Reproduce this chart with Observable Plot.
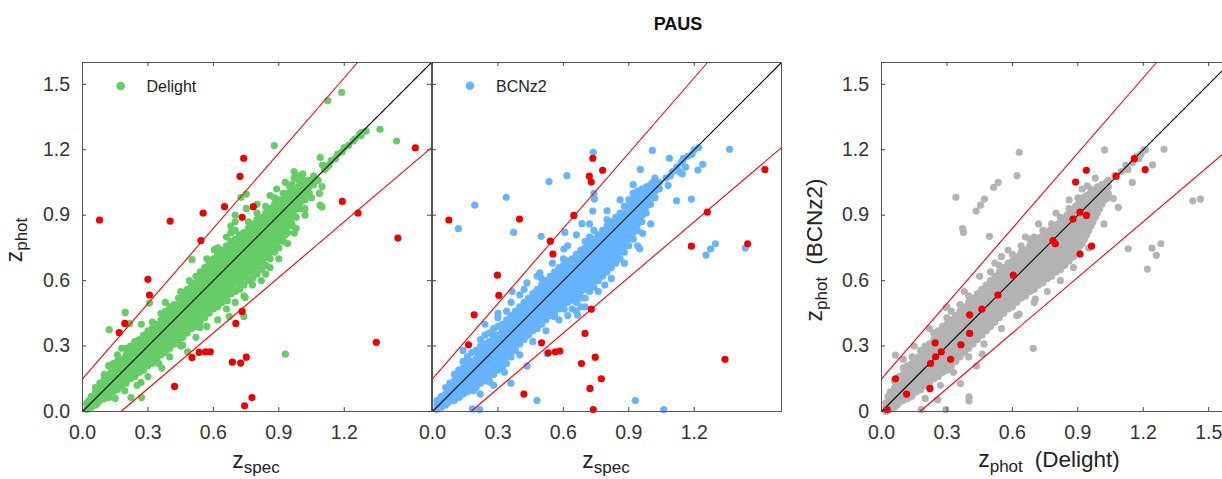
<!DOCTYPE html>
<html>
<head>
<meta charset="utf-8">
<script src="https://cdn.jsdelivr.net/npm/d3@7"></script>
<script src="https://cdn.jsdelivr.net/npm/@observablehq/plot@0.6"></script>
<style>
  html, body { margin: 0; padding: 0; background: white; overflow: hidden; }
  #wrap { position: relative; width: 1222px; height: 479px; overflow: hidden; background: white; }
  #wrap svg { position: absolute; left: 0; top: 0; }
</style>
</head>
<body>
<div id="wrap"></div>
<script>
// ---------------- data ----------------
const outlierCut = 0.15;               // |zp - zs| / (1 + zs) limit
const xTicks13 = [0, 0.3, 0.6, 0.9, 1.2];
const xTicks3 = [0, 0.3, 0.6, 0.9, 1.2, 1.5];
const yTicks = [0, 0.3, 0.6, 0.9, 1.2, 1.5];
const panelTitles = ["Delight", "BCNz2"];

// Dense cloud: rows of [z_spec, z_phot, z_phot, ...]
const delightBand = [
[0.02,0.01,0.03,0.04],[0.04,0.02,0.05,0.07],[0.06,0.03,0.06,0.09,0.11],[0.08,0.05,0.08,0.10,0.13],
[0.10,0.06,0.09,0.12,0.15,0.17],[0.12,0.08,0.11,0.13,0.16,0.21],[0.14,0.09,0.12,0.15,0.18,0.22],
[0.16,0.10,0.13,0.16,0.19,0.23,0.26],[0.18,0.12,0.15,0.18,0.21,0.24],[0.20,0.13,0.17,0.20,0.23,0.26,0.29],
[0.22,0.15,0.18,0.21,0.24,0.27,0.30],[0.24,0.16,0.20,0.23,0.26,0.29,0.32],[0.26,0.18,0.21,0.25,0.28,0.31,0.33],
[0.28,0.19,0.23,0.26,0.29,0.32,0.35],[0.30,0.21,0.24,0.28,0.31,0.34,0.37],[0.32,0.22,0.26,0.29,0.32,0.35,0.38,0.41],
[0.34,0.24,0.28,0.31,0.34,0.37,0.40],[0.36,0.26,0.29,0.33,0.36,0.39,0.42,0.45],[0.38,0.27,0.31,0.34,0.37,0.40,0.43,0.46],
[0.40,0.29,0.33,0.36,0.39,0.42,0.45,0.48],[0.42,0.31,0.34,0.38,0.41,0.44,0.47,0.49],[0.44,0.33,0.36,0.40,0.43,0.46,0.49,0.52],
[0.46,0.34,0.38,0.41,0.45,0.48,0.51,0.54],[0.48,0.36,0.40,0.43,0.47,0.50,0.53,0.56],[0.50,0.38,0.41,0.45,0.48,0.52,0.55,0.58],
[0.52,0.39,0.43,0.47,0.50,0.53,0.56,0.59,0.62],[0.54,0.41,0.45,0.49,0.52,0.55,0.58,0.61,0.64],[0.56,0.43,0.47,0.50,0.54,0.57,0.60,0.63,0.66],
[0.58,0.45,0.49,0.52,0.56,0.59,0.62,0.65,0.68],[0.60,0.47,0.50,0.54,0.57,0.61,0.64,0.67,0.70],[0.62,0.48,0.52,0.56,0.59,0.62,0.66,0.69,0.72],
[0.64,0.50,0.54,0.58,0.61,0.64,0.67,0.71,0.74],[0.66,0.52,0.56,0.60,0.63,0.66,0.69,0.72,0.76,0.80],
[0.68,0.54,0.57,0.61,0.65,0.68,0.71,0.74,0.78,0.82,0.85],[0.70,0.55,0.59,0.63,0.66,0.70,0.73,0.76,0.79,0.83,0.87],
[0.72,0.56,0.60,0.64,0.68,0.71,0.75,0.78,0.81],[0.74,0.58,0.62,0.66,0.69,0.73,0.76,0.79,0.82],
[0.76,0.60,0.64,0.67,0.71,0.75,0.78,0.81,0.84,0.87],[0.78,0.61,0.65,0.69,0.73,0.76,0.80,0.83,0.86],
[0.80,0.63,0.67,0.71,0.74,0.78,0.81,0.85,0.88,0.91],[0.82,0.65,0.69,0.72,0.76,0.80,0.83,0.86,0.89],
[0.84,0.67,0.71,0.74,0.78,0.81,0.85,0.88,0.91,0.94],[0.86,0.70,0.73,0.77,0.80,0.83,0.87,0.90,0.93],
[0.88,0.73,0.76,0.79,0.82,0.86,0.89,0.92,0.95,0.98],[0.90,0.75,0.79,0.82,0.85,0.88,0.91,0.94,0.97],
[0.92,0.78,0.82,0.85,0.88,0.91,0.94,0.97,1.00],[0.94,0.82,0.85,0.88,0.91,0.94,0.97,1.00],
[0.96,0.86,0.89,0.92,0.95,0.98,1.01,1.04],[0.98,0.89,0.93,0.96,0.99,1.02],[1.00,0.93,0.96,0.99,1.02,1.05,1.08],
[1.02,0.97,1.00,1.03,1.06],[1.04,1.00,1.03,1.06],[1.06,1.04,1.07]
];
const delightCore = [
[0.03,0.02,0.05],[0.05,0.03,0.06],[0.07,0.04,0.07,0.10],[0.09,0.06,0.09,0.12],[0.11,0.07,0.10,0.14],
[0.13,0.09,0.12,0.15,0.18],[0.15,0.10,0.14,0.17,0.20],[0.17,0.12,0.15,0.18,0.21],[0.19,0.14,0.17,0.20,0.23],
[0.21,0.15,0.18,0.21,0.24,0.27],[0.23,0.17,0.20,0.23,0.26],[0.25,0.18,0.21,0.24,0.27,0.30],[0.27,0.20,0.23,0.26,0.29],
[0.29,0.21,0.24,0.27,0.30,0.33],[0.31,0.23,0.26,0.29,0.32,0.35],[0.33,0.25,0.28,0.31,0.34,0.37],[0.35,0.26,0.29,0.32,0.35,0.38],
[0.37,0.28,0.31,0.34,0.37,0.40],[0.39,0.30,0.33,0.36,0.39,0.42],[0.41,0.32,0.35,0.38,0.41,0.44],[0.43,0.34,0.37,0.40,0.43,0.46],
[0.45,0.36,0.39,0.42,0.45,0.48],[0.47,0.38,0.41,0.44,0.47,0.50],[0.49,0.40,0.43,0.46,0.49,0.52],[0.51,0.41,0.44,0.47,0.50,0.53,0.56],
[0.53,0.43,0.46,0.49,0.52,0.55,0.58],[0.55,0.45,0.48,0.51,0.54,0.57,0.60],[0.57,0.47,0.50,0.53,0.56,0.59,0.62],
[0.59,0.49,0.52,0.55,0.58,0.61,0.64],[0.61,0.50,0.53,0.56,0.59,0.62,0.65],[0.63,0.52,0.55,0.58,0.61,0.64,0.67],
[0.65,0.54,0.57,0.60,0.63,0.66,0.69],[0.67,0.56,0.59,0.62,0.65,0.68,0.71,0.74],[0.69,0.57,0.60,0.63,0.66,0.69,0.72,0.75],
[0.71,0.59,0.62,0.65,0.68,0.71,0.74,0.77],[0.73,0.61,0.64,0.67,0.70,0.73,0.76],[0.75,0.62,0.65,0.68,0.71,0.74,0.77,0.80],
[0.77,0.64,0.67,0.70,0.73,0.76,0.79],[0.79,0.66,0.69,0.72,0.75,0.78,0.81,0.84],[0.81,0.68,0.71,0.74,0.77,0.80,0.83],
[0.83,0.70,0.73,0.76,0.79,0.82,0.85,0.88],[0.85,0.72,0.75,0.78,0.81,0.84,0.87],[0.87,0.74,0.77,0.80,0.83,0.86,0.89,0.92],
[0.89,0.77,0.80,0.83,0.86,0.89,0.92],[0.91,0.80,0.83,0.86,0.89,0.92,0.95],[0.93,0.83,0.86,0.89,0.92,0.95,0.98],
[0.95,0.87,0.90,0.93,0.96,0.99],[0.97,0.90,0.93,0.96,0.99,1.02],[0.99,0.94,0.97,1.00,1.03],[1.01,0.97,1.00,1.03],[1.03,1.01,1.04]
];
// stragglers along the edges of the dense cloud
const delightEdge = [
[0.27,0.40],[0.45,0.55],[0.49,0.60],[0.57,0.70],[0.62,0.75],[0.70,0.90],[0.80,0.95],[0.86,0.99],[0.89,1.02],
[0.93,1.05],[0.97,1.10],[0.25,0.12],[0.30,0.16],[0.35,0.22],[0.40,0.25],[0.45,0.30],[0.52,0.34],[0.57,0.39],
[0.62,0.42],[0.66,0.47],[0.70,0.50],[0.74,0.53],[0.78,0.58],[0.82,0.60],[0.86,0.66],[0.90,0.70],[0.94,0.77],
[0.98,0.84],[1.02,0.90],[0.15,0.06],[0.18,0.29],[0.38,0.50],[0.84,0.63]
];
const delightScatter = [
[1.188,1.463],[1.124,1.425],[0.879,1.219],[1.090,1.164],[1.364,1.294],[1.440,1.240],[1.300,1.286],[1.277,1.265],
[1.098,1.031],[1.086,1.000],[1.089,0.946],[1.098,0.938],[0.971,0.818],[0.726,0.982],[0.751,0.997],[0.751,0.931],
[0.502,0.696],[0.604,0.742],[0.307,0.497],[0.196,0.454],[0.216,0.404],[0.122,0.375],[0.930,0.263],[0.673,0.436],
[0.740,0.436],[0.746,0.523],[0.664,0.508],[0.271,0.064],[0.222,0.064],[0.122,0.064],[0.194,0.095],[0.268,0.133],
[0.364,0.199],[0.459,0.304],[0.482,0.274],[0.538,0.385],[0.402,0.324],
[1.11,1.11],[1.13,1.13],[1.14,1.15],[1.16,1.16],[1.17,1.18],[1.19,1.19],[1.20,1.21],[1.22,1.22],[1.24,1.24],
[1.25,1.25],[1.27,1.27],[1.28,1.28],[1.10,1.13],[1.12,1.12],[1.08,1.06],[1.06,1.08],[0.99,1.06],[0.95,1.03],
[1.02,0.93],[1.05,0.98],[0.93,0.81],[0.96,0.85],[0.97,1.07],[0.99,1.08],[1.01,1.09]
];
const delightOutliers = [
[0.078,0.878],[0.402,0.873],[0.300,0.606],[0.307,0.534],[0.194,0.404],[0.168,0.362],[0.543,0.784],[0.553,0.910],
[0.651,0.939],[0.722,1.078],[0.739,1.161],[0.732,0.890],[0.783,0.939],[1.191,0.963],[1.263,0.910],[1.526,1.209],
[1.446,0.795],[1.347,0.317],[0.732,0.459],[0.703,0.404],[0.502,0.248],[0.535,0.271],[0.564,0.274],[0.586,0.274],
[0.687,0.226],[0.725,0.222],[0.751,0.249],[0.422,0.115],[0.777,0.064],[0.743,0.026]
];

const bcnzBand = [
[0.02,0.01,0.03,0.05],[0.04,0.02,0.04,0.07],[0.06,0.03,0.06,0.08,0.11],[0.08,0.05,0.07,0.10,0.13],
[0.10,0.05,0.08,0.11,0.14,0.17],[0.12,0.07,0.10,0.13,0.16,0.19],[0.14,0.08,0.11,0.14,0.17,0.20,0.23],
[0.16,0.09,0.12,0.15,0.18,0.21,0.25],[0.18,0.10,0.14,0.17,0.20,0.23,0.27],[0.20,0.11,0.15,0.18,0.21,0.24,0.28],
[0.22,0.13,0.16,0.20,0.23,0.26,0.30,0.33],[0.24,0.14,0.18,0.21,0.24,0.27,0.31,0.35],[0.26,0.16,0.19,0.22,0.26,0.29,0.32,0.36],
[0.28,0.17,0.21,0.24,0.27,0.30,0.34,0.38],[0.30,0.19,0.22,0.26,0.29,0.32,0.35,0.39,0.43],[0.32,0.20,0.24,0.27,0.31,0.34,0.37,0.40],
[0.34,0.22,0.26,0.29,0.33,0.36,0.39,0.42,0.46],[0.36,0.25,0.28,0.31,0.35,0.38,0.41,0.44],[0.38,0.28,0.31,0.34,0.37,0.40,0.43,0.46],
[0.40,0.31,0.34,0.37,0.40,0.42,0.45,0.48],[0.42,0.33,0.36,0.39,0.42,0.44,0.47,0.50],[0.44,0.35,0.38,0.41,0.44,0.46,0.49,0.52],
[0.46,0.37,0.40,0.43,0.46,0.48,0.51,0.54],[0.48,0.38,0.42,0.45,0.47,0.50,0.53,0.56],[0.50,0.40,0.43,0.46,0.49,0.52,0.55,0.58,0.61],
[0.52,0.42,0.45,0.48,0.51,0.54,0.57,0.60],[0.54,0.44,0.47,0.50,0.53,0.56,0.59,0.62],[0.56,0.45,0.49,0.52,0.55,0.58,0.61,0.64],
[0.58,0.47,0.50,0.53,0.57,0.60,0.63,0.66],[0.60,0.49,0.52,0.55,0.58,0.61,0.64,0.67,0.70],[0.62,0.50,0.53,0.57,0.60,0.63,0.66,0.69],
[0.64,0.47,0.51,0.55,0.58,0.61,0.64,0.67,0.70],[0.66,0.46,0.50,0.53,0.57,0.60,0.63,0.66,0.69,0.72],
[0.68,0.48,0.52,0.55,0.59,0.62,0.65,0.68,0.71,0.74],[0.70,0.52,0.56,0.60,0.63,0.66,0.69,0.72,0.75,0.78],
[0.72,0.55,0.58,0.62,0.65,0.68,0.71,0.74,0.77,0.80],[0.74,0.57,0.60,0.63,0.67,0.70,0.73,0.76,0.79,0.83],
[0.76,0.60,0.63,0.66,0.69,0.72,0.75,0.78,0.81],[0.78,0.62,0.65,0.68,0.71,0.74,0.77,0.80,0.83],
[0.80,0.64,0.67,0.70,0.73,0.76,0.79,0.82,0.85,0.88],[0.82,0.66,0.69,0.72,0.75,0.78,0.81,0.84,0.87],
[0.84,0.68,0.71,0.74,0.77,0.80,0.83,0.86,0.89],[0.86,0.70,0.73,0.76,0.79,0.82,0.85,0.88,0.91],
[0.88,0.73,0.76,0.79,0.82,0.85,0.88,0.91,0.94],[0.90,0.76,0.79,0.82,0.85,0.88,0.91,0.94,0.97],
[0.92,0.79,0.82,0.85,0.88,0.91,0.94,0.97,1.00],[0.94,0.83,0.86,0.89,0.92,0.95,0.98,1.01],
[0.96,0.87,0.90,0.93,0.96,0.99,1.02],[0.98,0.91,0.94,0.97,1.00,1.03],[1.00,0.95,0.98,1.01,1.04],
[1.02,0.98,1.01,1.04,1.07],[1.04,1.02,1.05]
];
const bcnzCore = [
[0.03,0.02,0.04],[0.05,0.03,0.06],[0.07,0.04,0.07,0.10],[0.09,0.05,0.08,0.11],[0.11,0.07,0.10,0.13],
[0.13,0.08,0.11,0.14,0.17],[0.15,0.10,0.13,0.16,0.19],[0.17,0.11,0.14,0.17,0.20,0.23],[0.19,0.13,0.16,0.19,0.22],
[0.21,0.14,0.17,0.20,0.23,0.26],[0.23,0.16,0.19,0.22,0.25,0.28],[0.25,0.17,0.20,0.23,0.26,0.29],[0.27,0.19,0.22,0.25,0.28,0.31],
[0.29,0.20,0.23,0.26,0.29,0.32,0.35],[0.31,0.22,0.25,0.28,0.31,0.34],[0.33,0.24,0.27,0.30,0.33,0.36],[0.35,0.27,0.30,0.33,0.36,0.39],
[0.37,0.29,0.32,0.35,0.38,0.41],[0.39,0.31,0.34,0.37,0.40,0.43],[0.41,0.33,0.36,0.39,0.42,0.45],[0.43,0.35,0.38,0.41,0.44,0.47],
[0.45,0.37,0.40,0.43,0.46,0.49],[0.47,0.39,0.42,0.45,0.48,0.51],[0.49,0.40,0.43,0.46,0.49,0.52,0.55],[0.51,0.42,0.45,0.48,0.51,0.54],
[0.53,0.44,0.47,0.50,0.53,0.56,0.59],[0.55,0.46,0.49,0.52,0.55,0.58],[0.57,0.48,0.51,0.54,0.57,0.60,0.63],[0.59,0.50,0.53,0.56,0.59,0.62],
[0.61,0.51,0.54,0.57,0.60,0.63,0.66],[0.63,0.52,0.55,0.58,0.61,0.64,0.67],[0.65,0.53,0.56,0.59,0.62,0.65,0.68],
[0.67,0.55,0.58,0.61,0.64,0.67,0.70],[0.69,0.57,0.60,0.63,0.66,0.69,0.72],[0.71,0.59,0.62,0.65,0.68,0.71,0.74],
[0.73,0.61,0.64,0.67,0.70,0.73,0.76],[0.75,0.63,0.66,0.69,0.72,0.75,0.78],[0.77,0.65,0.68,0.71,0.74,0.77,0.80],
[0.79,0.67,0.70,0.73,0.76,0.79,0.82],[0.81,0.69,0.72,0.75,0.78,0.81,0.84],[0.83,0.71,0.74,0.77,0.80,0.83,0.86],
[0.85,0.73,0.76,0.79,0.82,0.85,0.88],[0.87,0.76,0.79,0.82,0.85,0.88,0.91],[0.89,0.79,0.82,0.85,0.88,0.91],
[0.91,0.82,0.85,0.88,0.91,0.94],[0.93,0.85,0.88,0.91,0.94,0.97],[0.95,0.89,0.92,0.95,0.98],[0.97,0.93,0.96,0.99,1.02],
[0.99,0.96,0.99,1.02],[1.01,0.99,1.02,1.05],[1.03,1.03]
];
const bcnzEdge = [
[0.30,0.45],[0.36,0.50],[0.42,0.56],[0.48,0.62],[0.55,0.68],[0.62,0.76],[0.72,0.86],[0.80,0.92],[0.86,0.97],
[0.92,1.04],[0.28,0.12],[0.33,0.18],[0.40,0.26],[0.46,0.32],[0.52,0.37],[0.58,0.42],[0.62,0.44],[0.70,0.48],
[0.76,0.55],[0.82,0.61],[0.88,0.68],[0.94,0.76],[1.00,0.86],[0.14,0.28],[0.24,0.40],[0.66,0.81],[0.79,0.58]
];
const bcnzScatter = [
[0.737,1.188],[1.008,1.197],[1.362,1.202],[1.086,1.161],[1.145,1.148],[1.239,1.133],[1.217,1.107],[0.953,1.110],
[0.616,1.081],[0.534,1.054],[0.338,0.982],[0.194,0.946],[0.119,0.838],[0.372,0.821],[0.498,0.803],[0.607,0.821],
[0.602,0.745],[0.735,0.919],[0.742,0.974],[0.740,1.000],[0.685,0.861],[1.119,0.966],[1.187,0.974],[1.080,1.037],
[1.145,1.089],[1.297,0.769],[1.275,0.745],[1.254,0.717],[1.434,0.749],[0.963,0.817],[0.950,0.746],[0.492,0.636],
[0.433,0.590],[0.365,0.550],[0.400,0.535],[0.665,0.442],[0.558,0.436],[0.604,0.469],[0.525,0.266],[0.433,0.209],
[0.359,0.130],[0.263,0.135],[0.188,0.095],[0.219,0.080],[0.183,0.012],[0.216,0.009],[0.479,0.050],[0.930,0.050],
[1.060,0.009],[0.092,0.125],[0.122,0.064],
[1.07,1.07],[1.09,1.08],[1.10,1.10],[1.12,1.12],[1.14,1.14],[1.15,1.16],[1.17,1.17],[1.19,1.18],[1.20,1.20],
[1.22,1.21],[1.13,1.10],[1.16,1.12]
];
const bcnzOutliers = [
[0.075,0.878],[0.399,0.882],[0.298,0.625],[0.304,0.532],[0.191,0.443],[0.165,0.306],[0.540,0.781],[0.552,0.722],
[0.648,0.899],[0.719,1.079],[0.728,1.052],[0.735,1.161],[0.780,1.106],[1.187,0.758],[1.260,0.914],[1.445,0.769],
[1.524,1.109],[1.341,0.239],[0.728,0.469],[0.699,0.358],[0.500,0.315],[0.531,0.269],[0.563,0.274],[0.584,0.277],
[0.683,0.220],[0.746,0.249],[0.774,0.150],[0.722,0.106],[0.419,0.080],[0.737,0.009]
];

const compareBand = [
[0.02,0.00,0.02,0.04],[0.04,0.01,0.04,0.06,0.09],[0.06,0.02,0.05,0.08,0.11,0.14],[0.08,0.04,0.07,0.10,0.13,0.16],
[0.10,0.05,0.08,0.11,0.14,0.17,0.20],[0.12,0.06,0.09,0.12,0.15,0.18,0.21],[0.14,0.07,0.10,0.13,0.16,0.19,0.22,0.25],
[0.16,0.09,0.12,0.15,0.18,0.21,0.24],[0.18,0.10,0.13,0.16,0.19,0.22,0.25,0.28],[0.20,0.12,0.15,0.18,0.21,0.24,0.27,0.30],
[0.22,0.13,0.16,0.19,0.22,0.25,0.28,0.31],[0.24,0.15,0.18,0.21,0.24,0.27,0.30,0.33,0.36],[0.26,0.16,0.19,0.22,0.25,0.28,0.31,0.34,0.37],
[0.28,0.18,0.21,0.24,0.27,0.30,0.33,0.36,0.39],[0.30,0.19,0.22,0.25,0.28,0.31,0.34,0.37,0.40,0.43],
[0.32,0.21,0.24,0.27,0.30,0.33,0.36,0.39,0.42,0.46],[0.34,0.23,0.26,0.29,0.32,0.35,0.38,0.41,0.44],
[0.36,0.25,0.28,0.31,0.34,0.37,0.40,0.43,0.46,0.49],[0.38,0.27,0.30,0.33,0.36,0.39,0.42,0.45,0.48],
[0.40,0.29,0.32,0.35,0.38,0.41,0.44,0.47,0.50,0.53],[0.42,0.31,0.34,0.37,0.40,0.43,0.46,0.49,0.52],
[0.44,0.33,0.36,0.39,0.42,0.45,0.48,0.51,0.54],[0.46,0.35,0.38,0.41,0.44,0.47,0.50,0.53,0.56],
[0.48,0.37,0.40,0.43,0.46,0.49,0.52,0.55,0.58],[0.50,0.39,0.42,0.45,0.48,0.51,0.54,0.57,0.60,0.64],
[0.52,0.41,0.44,0.47,0.50,0.53,0.56,0.59,0.62],[0.54,0.43,0.46,0.49,0.52,0.55,0.58,0.61,0.64,0.67],
[0.56,0.45,0.48,0.51,0.54,0.57,0.60,0.63,0.66],[0.58,0.47,0.50,0.53,0.56,0.59,0.62,0.65,0.68],
[0.60,0.48,0.51,0.54,0.57,0.60,0.63,0.66,0.69,0.72],[0.62,0.50,0.53,0.56,0.59,0.62,0.65,0.68,0.71],
[0.64,0.52,0.55,0.58,0.61,0.64,0.67,0.70,0.73,0.76],[0.66,0.53,0.56,0.59,0.62,0.65,0.68,0.71,0.74],
[0.68,0.55,0.58,0.61,0.64,0.67,0.70,0.73,0.76,0.79],[0.70,0.56,0.59,0.62,0.65,0.68,0.71,0.74,0.77,0.80],
[0.72,0.58,0.61,0.64,0.67,0.70,0.73,0.76,0.79],[0.74,0.59,0.62,0.65,0.68,0.71,0.74,0.77,0.80,0.83],
[0.76,0.61,0.64,0.67,0.70,0.73,0.76,0.79,0.82],[0.78,0.62,0.65,0.68,0.71,0.74,0.77,0.80,0.83,0.86],
[0.80,0.64,0.67,0.70,0.73,0.76,0.79,0.82,0.85],[0.82,0.65,0.68,0.71,0.74,0.77,0.80,0.83,0.86,0.89],
[0.84,0.67,0.70,0.73,0.76,0.79,0.82,0.85,0.88],[0.86,0.69,0.72,0.75,0.78,0.81,0.84,0.87,0.90,0.93],
[0.88,0.71,0.74,0.77,0.80,0.83,0.86,0.89,0.92],[0.90,0.74,0.77,0.80,0.83,0.86,0.89,0.92,0.95,0.98],
[0.92,0.77,0.80,0.83,0.86,0.89,0.92,0.95,0.98],[0.94,0.81,0.84,0.87,0.90,0.93,0.96,0.99],
[0.96,0.85,0.88,0.91,0.94,0.97,1.00,1.02],[0.98,0.89,0.92,0.95,0.98,1.01],[1.00,0.93,0.96,0.99,1.02],
[1.02,0.97,1.00,1.03],[1.04,1.00,1.03,1.06]
];
const compareCore = [
[0.03,0.01,0.04,0.07],[0.05,0.02,0.05,0.08],[0.07,0.03,0.06,0.09,0.12],[0.09,0.05,0.08,0.11,0.14],
[0.11,0.06,0.09,0.12,0.15,0.18],[0.13,0.07,0.10,0.13,0.16,0.19],[0.15,0.09,0.12,0.15,0.18,0.21],
[0.17,0.10,0.13,0.16,0.19,0.22,0.25],[0.19,0.12,0.15,0.18,0.21,0.24,0.27],[0.21,0.13,0.16,0.19,0.22,0.25,0.28],
[0.23,0.15,0.18,0.21,0.24,0.27,0.30],[0.25,0.16,0.19,0.22,0.25,0.28,0.31,0.34],[0.27,0.18,0.21,0.24,0.27,0.30,0.33],
[0.29,0.19,0.22,0.25,0.28,0.31,0.34,0.37],[0.31,0.21,0.24,0.27,0.30,0.33,0.36,0.39],[0.33,0.23,0.26,0.29,0.32,0.35,0.38,0.41],
[0.35,0.25,0.28,0.31,0.34,0.37,0.40,0.43],[0.37,0.27,0.30,0.33,0.36,0.39,0.42,0.45],[0.39,0.29,0.32,0.35,0.38,0.41,0.44,0.47],
[0.41,0.31,0.34,0.37,0.40,0.43,0.46,0.49],[0.43,0.33,0.36,0.39,0.42,0.45,0.48,0.51],[0.45,0.35,0.38,0.41,0.44,0.47,0.50,0.53],
[0.47,0.37,0.40,0.43,0.46,0.49,0.52,0.55],[0.49,0.39,0.42,0.45,0.48,0.51,0.54,0.57],[0.51,0.41,0.44,0.47,0.50,0.53,0.56,0.59],
[0.53,0.43,0.46,0.49,0.52,0.55,0.58,0.61],[0.55,0.45,0.48,0.51,0.54,0.57,0.60,0.63],[0.57,0.47,0.50,0.53,0.56,0.59,0.62,0.65],
[0.59,0.48,0.51,0.54,0.57,0.60,0.63,0.66],[0.61,0.50,0.53,0.56,0.59,0.62,0.65,0.68],[0.63,0.52,0.55,0.58,0.61,0.64,0.67,0.70],
[0.65,0.53,0.56,0.59,0.62,0.65,0.68,0.71],[0.67,0.55,0.58,0.61,0.64,0.67,0.70,0.73],[0.69,0.56,0.59,0.62,0.65,0.68,0.71,0.74,0.77],
[0.71,0.58,0.61,0.64,0.67,0.70,0.73,0.76],[0.73,0.59,0.62,0.65,0.68,0.71,0.74,0.77,0.80],[0.75,0.61,0.64,0.67,0.70,0.73,0.76,0.79],
[0.77,0.62,0.65,0.68,0.71,0.74,0.77,0.80,0.83],[0.79,0.64,0.67,0.70,0.73,0.76,0.79,0.82],[0.81,0.65,0.68,0.71,0.74,0.77,0.80,0.83,0.86],
[0.83,0.67,0.70,0.73,0.76,0.79,0.82,0.85],[0.85,0.69,0.72,0.75,0.78,0.81,0.84,0.87,0.90],[0.87,0.71,0.74,0.77,0.80,0.83,0.86,0.89],
[0.89,0.73,0.76,0.79,0.82,0.85,0.88,0.91,0.94],[0.91,0.76,0.79,0.82,0.85,0.88,0.91,0.94],[0.93,0.79,0.82,0.85,0.88,0.91,0.94,0.97],
[0.95,0.83,0.86,0.89,0.92,0.95,0.98],[0.97,0.87,0.90,0.93,0.96,0.99],[0.99,0.91,0.94,0.97,1.00,1.03],[1.01,0.95,0.98,1.01,1.04],
[1.03,0.99,1.02,1.05]
];
const compareEdge = [
[0.15,0.30],[0.22,0.38],[0.30,0.48],[0.38,0.55],[0.45,0.62],[0.52,0.68],[0.58,0.74],[0.66,0.80],[0.72,0.86],
[0.80,0.91],[0.86,0.97],[0.92,1.02],[0.98,1.07],[0.20,0.06],[0.27,0.12],[0.33,0.18],[0.40,0.25],[0.47,0.31],
[0.55,0.38],[0.62,0.44],[0.70,0.50],[0.76,0.55],[0.82,0.60],[0.88,0.66],[0.95,0.75],[1.02,0.86],[0.10,0.24],[0.55,0.71]
];
const compareScatter = [
[0.631,1.188],[0.621,1.081],[1.023,1.199],[1.295,1.202],[1.203,1.199],[1.243,1.131],[0.514,1.028],[0.535,1.050],
[0.341,0.982],[0.472,0.974],[0.454,0.946],[0.434,0.919],[0.372,0.839],[0.376,0.821],[0.495,0.803],[1.427,0.966],
[1.462,0.974],[1.131,0.746],[1.240,0.749],[1.281,0.769],[1.260,0.716],[1.219,0.653],[1.063,0.976],[1.086,0.936],
[1.032,0.976],[0.696,0.289],[0.362,0.128],[0.401,0.067],[0.401,0.049],[0.295,0.009],[0.182,0.009],[0.257,0.054],
[0.462,0.263],[0.436,0.209],[0.064,0.258],[0.297,0.477],[0.631,0.446],[0.705,0.515],[0.943,1.035],[0.953,0.997],
[1.07,1.08],[1.10,1.10],[1.12,1.13],[1.15,1.14],[1.17,1.17],[1.19,1.18],[1.21,1.20],[1.13,1.11],[1.18,1.16],[1.15,1.05]
];
const compareRed = [
[0.026,0.009],[0.064,0.150],[0.115,0.080],[0.222,0.106],[0.225,0.220],[0.246,0.315],[0.248,0.251],[0.274,0.274],
[0.317,0.239],[0.364,0.306],[0.404,0.358],[0.404,0.443],[0.460,0.469],[0.534,0.534],[0.604,0.625],[0.786,0.783],
[0.797,0.769],[0.878,0.882],[0.890,1.052],[0.910,0.914],[0.940,0.899],[0.939,1.106],[0.910,0.722],[0.963,0.758],
[1.076,1.079],[1.159,1.159],[1.209,1.109]
];

const colors = { delight: "#66cc66", bcnz: "#66b3ff", compare: "#b3b3b3", outlier: "#ee0000" };

// ---------------- drawing ----------------
const H = 479, TOP = 62, SIZE = 349, DMAX = 1.6;
const fmt = d => d.toFixed(1);

function expand(rows) { return rows.flatMap(([x, ...ys]) => ys.map(y => ({x, y}))); }
function pairs(rows) { return rows.map(([x, y]) => ({x, y})); }

function panel({left, pts, red, color, xTicks, yLabels, yFmt, rightTicks}) {
  const c = outlierCut;
  const diag = [{x: 0, y: 0}, {x: DMAX, y: DMAX}];
  const upper = [{x: 0, y: c}, {x: (DMAX - c) / (1 + c), y: DMAX}];
  const lower = [{x: c / (1 - c), y: 0}, {x: DMAX, y: DMAX - c * (1 + DMAX)}];
  const inset = SIZE - 4;
  const marks = [
    Plot.dot(pts, {x: "x", y: "y", r: 3.6, fill: color}),
    Plot.line(diag, {x: "x", y: "y", stroke: "black", strokeWidth: 1.1}),
    Plot.line(upper, {x: "x", y: "y", stroke: "#ff0000", strokeWidth: 1.1}),
    Plot.line(lower, {x: "x", y: "y", stroke: "#ff0000", strokeWidth: 1.1}),
    Plot.dot(red, {x: "x", y: "y", r: 3.6, fill: colors.outlier}),
    Plot.frame({stroke: "#555", strokeWidth: 1}),
    Plot.tickX(xTicks, {x: d => d, insetTop: inset, stroke: "#444"}),
    Plot.tickX(xTicks, {x: d => d, insetBottom: inset, stroke: "#444"}),
    Plot.tickY(yTicks, {y: d => d, insetRight: inset, stroke: "#444"}),
    Plot.axisX({ticks: xTicks, tickSize: 0, tickPadding: 14, tickFormat: fmt, label: null, fill: "#333"})
  ];
  if (rightTicks) marks.push(Plot.tickY(yTicks, {y: d => d, insetLeft: inset, stroke: "#444"}));
  if (yLabels) marks.push(Plot.axisY({ticks: yTicks, tickSize: 0, tickPadding: 12.5, tickFormat: yFmt, label: null, fill: "#333"}));
  return Plot.plot({
    width: left + SIZE + 1, height: H,
    marginLeft: left, marginRight: 1, marginTop: TOP, marginBottom: H - TOP - SIZE,
    x: {domain: [0, DMAX], label: null},
    y: {domain: [0, DMAX], label: null, axis: yLabels ? undefined : null},
    style: {background: "transparent", maxWidth: "none", position: "absolute", left: "0px", top: "0px",
            fontFamily: "'Liberation Sans', Arial, sans-serif", fontSize: "19.5px", overflow: "visible"},
    marks
  });
}

const wrap = document.getElementById("wrap");
wrap.appendChild(panel({left: 82,
  pts: [...expand(delightBand), ...expand(delightCore), ...pairs(delightEdge), ...pairs(delightScatter)],
  red: pairs(delightOutliers), color: colors.delight, xTicks: xTicks13, yLabels: true, yFmt: fmt, rightTicks: true}));
wrap.appendChild(panel({left: 432,
  pts: [...expand(bcnzBand), ...expand(bcnzCore), ...pairs(bcnzEdge), ...pairs(bcnzScatter)],
  red: pairs(bcnzOutliers), color: colors.bcnz, xTicks: xTicks13, yLabels: false, rightTicks: false}));
wrap.appendChild(panel({left: 881,
  pts: [...expand(compareBand), ...expand(compareCore), ...pairs(compareEdge), ...pairs(compareScatter)],
  red: pairs(compareRed), color: colors.compare, xTicks: xTicks3, yLabels: true,
  yFmt: d => d === 0 ? "0" : d.toFixed(1), rightTicks: false}));

// ---------------- text overlay: title, axis titles, legends ----------------
const NS = "http://www.w3.org/2000/svg";
const ov = document.createElementNS(NS, "svg");
ov.setAttribute("width", 1222); ov.setAttribute("height", H);
ov.setAttribute("font-family", "'Liberation Sans', Arial, sans-serif");
ov.setAttribute("fill", "#222");
ov.innerHTML = `
  <text x="678" y="30" text-anchor="middle" font-weight="bold" font-size="18" fill="#111">PAUS</text>
  <text transform="translate(22,240) rotate(-90)" text-anchor="middle"><tspan font-size="23">z</tspan><tspan font-size="17" dy="5">phot</tspan></text>
  <text x="256" y="468" text-anchor="middle"><tspan font-size="23">z</tspan><tspan font-size="17" dy="5">spec</tspan></text>
  <text x="606" y="468" text-anchor="middle"><tspan font-size="23">z</tspan><tspan font-size="17" dy="5">spec</tspan></text>
  <text x="1049" y="467" text-anchor="middle"><tspan font-size="23">z</tspan><tspan font-size="17" dy="5">phot</tspan><tspan font-size="22.5" dy="-5" dx="12">(Delight)</tspan></text>
  <text transform="translate(822,250) rotate(-90)" text-anchor="middle"><tspan font-size="23">z</tspan><tspan font-size="17" dy="5">phot</tspan><tspan font-size="22.5" dy="-5" dx="12">(BCNz2)</tspan></text>
  <circle cx="120.7" cy="86" r="4.3" fill="${colors.delight}"></circle>
  <text x="146.5" y="92" font-size="16">${panelTitles[0]}</text>
  <circle cx="470" cy="85.7" r="4.3" fill="${colors.bcnz}"></circle>
  <text x="496" y="92" font-size="16">${panelTitles[1]}</text>
`;
wrap.appendChild(ov);
</script>
</body>
</html>
